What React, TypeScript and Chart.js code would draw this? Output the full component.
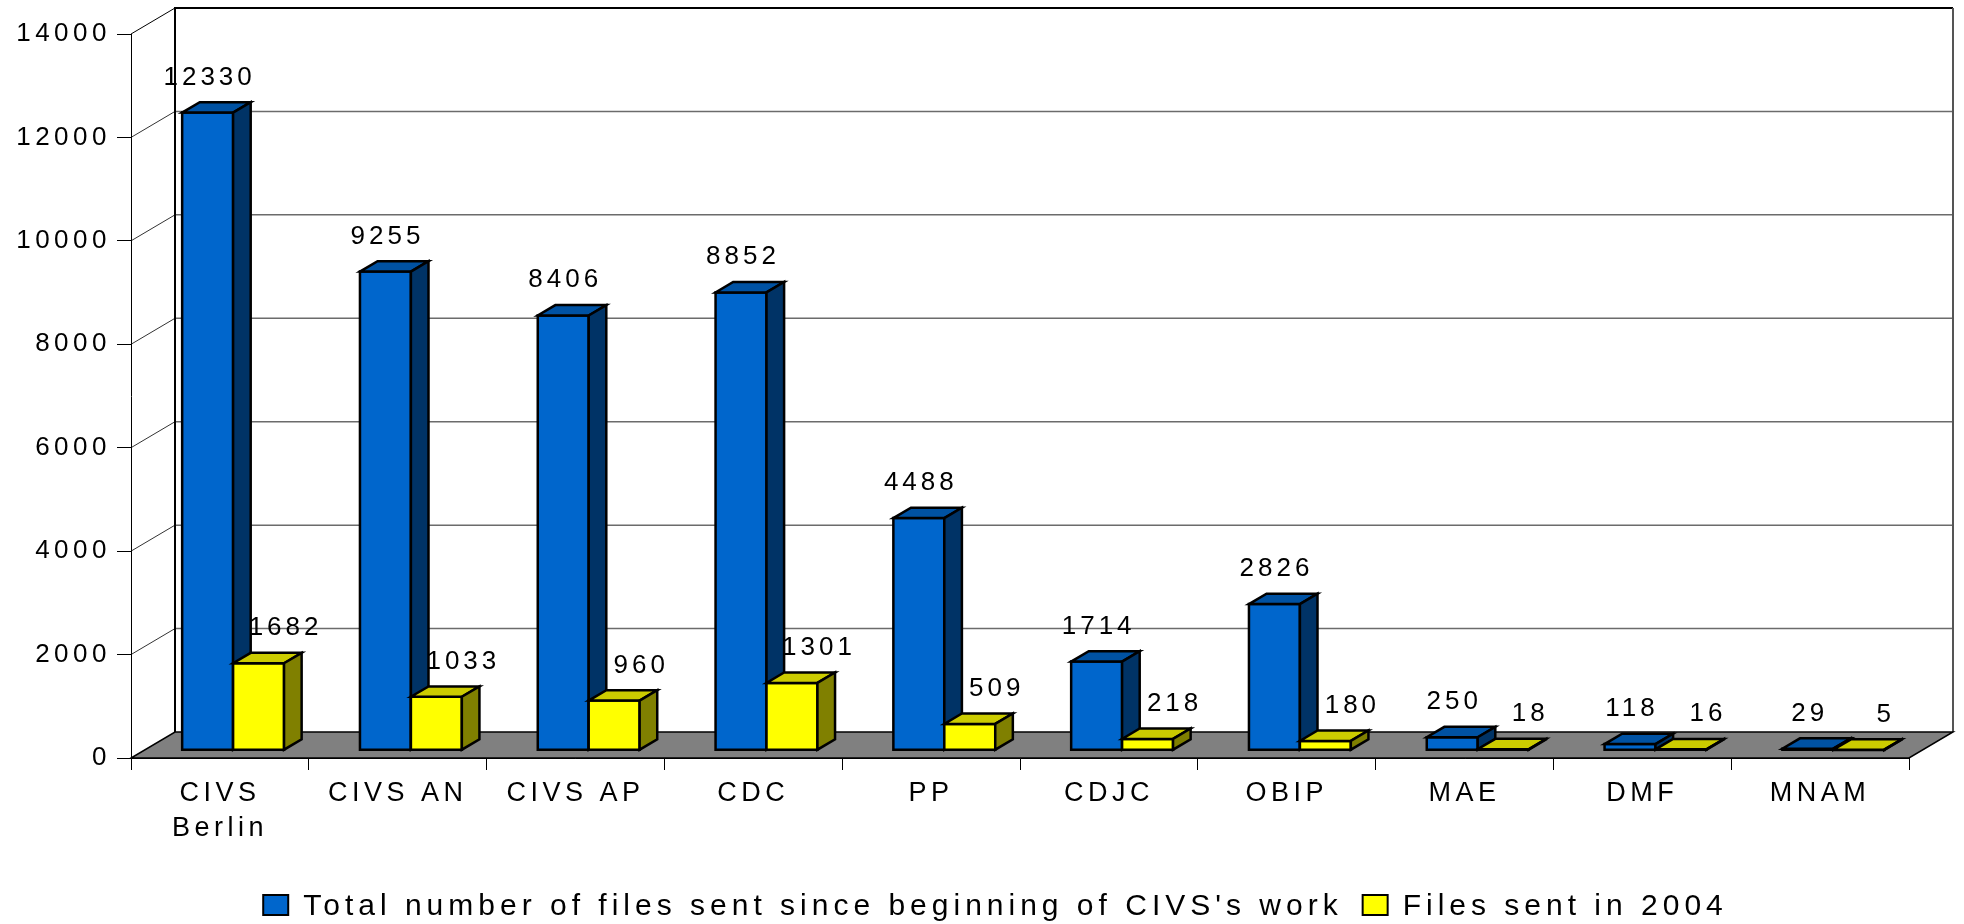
import { useEffect, useRef } from 'react';
import { Chart, registerables } from 'chart.js';

Chart.register(...registerables);

// ---------- data ----------
const categories: (string | string[])[] = [
  ['CIVS', 'Berlin'],
  'CIVS AN',
  'CIVS AP',
  'CDC',
  'PP',
  'CDJC',
  'OBIP',
  'MAE',
  'DMF',
  'MNAM',
];
const totalFiles = [12330, 9255, 8406, 8852, 4488, 1714, 2826, 250, 118, 29];
const files2004 = [1682, 1033, 960, 1301, 509, 218, 180, 18, 16, 5];
const seriesNames = [
  "Total number of files sent since beginning of CIVS's work",
  'Files sent in 2004',
];
const yMin = 0;
const yMax = 14000;
const yStep = 2000;

// ---------- style ----------
const FONT = "'Liberation Sans', Arial, Helvetica, sans-serif";
const DEPTH = { x: 44, y: -26 };
const BAR_FRONT = 0.3;
const BAR_BACK = 0.7;
const palettes = [
  { front: '#0066CC', top: '#0052A3', side: '#003366' },
  { front: '#FFFF00', top: '#CCCC00', side: '#808000' },
];

const excel3d = {
  id: 'excel3d',
  beforeUpdate(chart: any) {
    chart.ctx.letterSpacing = '4.5px';
  },
  beforeDraw(chart: any) {
    const { ctx, chartArea: ca, scales } = chart;
    const ys = scales.y;
    const dx = DEPTH.x;
    const dy = DEPTH.y;
    ctx.save();
    ctx.letterSpacing = '0px';
    // back wall
    ctx.fillStyle = '#ffffff';
    ctx.fillRect(ca.left + dx, ca.top + dy, ca.right - ca.left, ca.bottom - ca.top);
    // grid lines on back wall and side wall
    ys.ticks.forEach((t: any) => {
      const v = t.value;
      if (v <= yMin || v >= yMax) return;
      const yp = ys.getPixelForValue(v);
      ctx.strokeStyle = '#6b6b6b';
      ctx.lineWidth = 1.5;
      ctx.beginPath();
      ctx.moveTo(ca.left + dx, yp + dy);
      ctx.lineTo(ca.right + dx, yp + dy);
      ctx.stroke();
      ctx.strokeStyle = '#333333';
      ctx.lineWidth = 1;
      ctx.beginPath();
      ctx.moveTo(ca.left, yp);
      ctx.lineTo(ca.left + dx, yp + dy);
      ctx.stroke();
    });
    // top diagonal
    ctx.strokeStyle = '#000';
    ctx.lineWidth = 1;
    ctx.beginPath();
    ctx.moveTo(ca.left, ca.top);
    ctx.lineTo(ca.left + dx, ca.top + dy);
    ctx.stroke();
    // top edge + back-left edge
    ctx.lineWidth = 2;
    ctx.beginPath();
    ctx.moveTo(ca.left + dx, ca.bottom + dy);
    ctx.lineTo(ca.left + dx, ca.top + dy);
    ctx.lineTo(ca.right + dx, ca.top + dy);
    ctx.stroke();
    // back-right edge
    ctx.strokeStyle = '#555';
    ctx.beginPath();
    ctx.moveTo(ca.right + dx, ca.top + dy);
    ctx.lineTo(ca.right + dx, ca.bottom + dy);
    ctx.stroke();
    // floor
    ctx.fillStyle = '#808080';
    ctx.strokeStyle = '#000';
    ctx.lineWidth = 1.5;
    ctx.beginPath();
    ctx.moveTo(ca.left, ca.bottom);
    ctx.lineTo(ca.right, ca.bottom);
    ctx.lineTo(ca.right + dx, ca.bottom + dy);
    ctx.lineTo(ca.left + dx, ca.bottom + dy);
    ctx.closePath();
    ctx.fill();
    ctx.stroke();
    ctx.restore();
    ctx.letterSpacing = '4.5px';
  },
  afterDatasetsDraw(chart: any) {
    const { ctx } = chart;
    const fx = DEPTH.x * BAR_FRONT;
    const fy = DEPTH.y * BAR_FRONT;
    const sx = DEPTH.x * (BAR_BACK - BAR_FRONT);
    const sy = DEPTH.y * (BAR_BACK - BAR_FRONT);
    const labels: { text: string; x: number; y: number }[] = [];
    ctx.save();
    ctx.lineJoin = 'miter';
    const n = chart.data.labels.length;
    for (let i = 0; i < n; i++) {
      chart.data.datasets.forEach((ds: any, d: number) => {
        const meta = chart.getDatasetMeta(d);
        const el = meta.data[i];
        if (!el) return;
        const p = el.getProps(['x', 'y', 'base', 'width'], true);
        const x0 = p.x - p.width / 2 + fx;
        const x1 = p.x + p.width / 2 + fx;
        const yT = Math.min(p.y, p.base) + fy;
        const yB = Math.max(p.y, p.base) + fy;
        const pal = palettes[d];
        ctx.strokeStyle = '#000';
        ctx.lineWidth = 2.5;
        // front
        ctx.fillStyle = pal.front;
        ctx.beginPath();
        ctx.rect(x0, yT, x1 - x0, yB - yT);
        ctx.fill();
        ctx.stroke();
        // top
        ctx.fillStyle = pal.top;
        ctx.beginPath();
        ctx.moveTo(x0, yT);
        ctx.lineTo(x1, yT);
        ctx.lineTo(x1 + sx, yT + sy);
        ctx.lineTo(x0 + sx, yT + sy);
        ctx.closePath();
        ctx.fill();
        ctx.stroke();
        // side
        ctx.fillStyle = pal.side;
        ctx.beginPath();
        ctx.moveTo(x1, yT);
        ctx.lineTo(x1 + sx, yT + sy);
        ctx.lineTo(x1 + sx, yB + sy);
        ctx.lineTo(x1, yB);
        ctx.closePath();
        ctx.fill();
        ctx.stroke();
        labels.push({
          text: String(ds.data[i]),
          x: (x0 + x1) / 2 + (d === 1 ? 25 : 0),
          y: yT - 28,
        });
      });
    }
    ctx.font = `26px ${FONT}`;
    ctx.letterSpacing = '4px';
    ctx.fillStyle = '#000';
    ctx.textAlign = 'center';
    ctx.textBaseline = 'alphabetic';
    labels.forEach((l) => ctx.fillText(l.text, l.x + 2, l.y));
    ctx.restore();
  },
  afterDraw(chart: any) {
    const { ctx } = chart;
    ctx.save();
    ctx.font = `30px ${FONT}`;
    ctx.letterSpacing = '5px';
    ctx.textAlign = 'left';
    ctx.textBaseline = 'alphabetic';
    const box = { w: 25, h: 20, gap: 15, itemGap: 20 };
    const names = chart.data.datasets.map((ds: any) => ds.label);
    const widths = names.map((t: string) => ctx.measureText(t).width);
    const total =
      widths.reduce((a: number, w: number) => a + w + box.w + box.gap, 0) +
      box.itemGap * (names.length - 1) - 5;
    const baseline = 915;
    let x = 993 - total / 2;
    names.forEach((t: string, d: number) => {
      ctx.fillStyle = palettes[d].front;
      ctx.strokeStyle = '#000';
      ctx.lineWidth = 2;
      ctx.fillRect(x, baseline - box.h, box.w, box.h);
      ctx.strokeRect(x, baseline - box.h, box.w, box.h);
      x += box.w + box.gap;
      ctx.fillStyle = '#000';
      ctx.fillText(t, x, baseline);
      x += widths[d] + box.itemGap;
    });
    ctx.restore();
  },
};

export default function App() {
  const ref = useRef<HTMLCanvasElement | null>(null);
  useEffect(() => {
    document.body.style.margin = '0';
    if (!ref.current) return;
    Chart.defaults.font.family = FONT;
    const chart = new Chart(ref.current, {
      type: 'bar',
      data: {
        labels: categories,
        datasets: [
          {
            label: seriesNames[0],
            data: totalFiles,
            backgroundColor: 'rgba(0,0,0,0)',
            borderWidth: 0,
            categoryPercentage: 0.573,
            barPercentage: 1,
          },
          {
            label: seriesNames[1],
            data: files2004,
            backgroundColor: 'rgba(0,0,0,0)',
            borderWidth: 0,
            categoryPercentage: 0.573,
            barPercentage: 1,
          },
        ],
      },
      options: {
        responsive: false,
        animation: false,
        devicePixelRatio: 1,
        events: [],
        layout: { padding: { left: 0, right: 55, top: 34, bottom: 0 } },
        plugins: {
          legend: { display: false },
          tooltip: { enabled: false },
          title: { display: false },
        },
        scales: {
          x: {
            type: 'category',
            offset: true,
            grid: {
              offset: true,
              drawOnChartArea: false,
              drawTicks: true,
              tickLength: 12,
              color: '#000',
              lineWidth: 1,
            },
            border: { display: true, color: '#000', width: 1 },
            ticks: {
              color: '#000',
              font: { family: FONT, size: 27, lineHeight: 1.3 },
              padding: 6,
              maxRotation: 0,
              minRotation: 0,
              autoSkip: false,
            },
            afterFit: (s: any) => {
              s.height = 166;
            },
          },
          y: {
            min: yMin,
            max: yMax,
            grid: {
              drawOnChartArea: false,
              drawTicks: true,
              tickLength: 14,
              color: '#000',
              lineWidth: 1,
            },
            border: { display: true, color: '#000', width: 1 },
            ticks: {
              stepSize: yStep,
              color: '#000',
              font: { family: FONT, size: 26 },
              padding: 6,
              callback: (v: any) => String(v),
            },
            afterFit: (s: any) => {
              s.width = 131;
            },
          },
        },
      },
      plugins: [excel3d],
    } as any);
    return () => chart.destroy();
  }, []);
  return (
    <canvas
      ref={ref}
      width={1964}
      height={924}
      style={{ display: 'block', width: 1964, height: 924 }}
    />
  );
}
